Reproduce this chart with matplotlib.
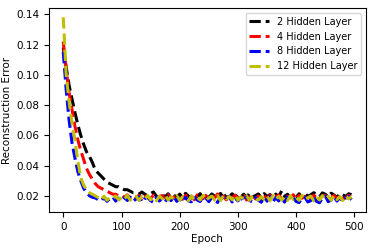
import numpy as np
import matplotlib
matplotlib.use("Agg")
import matplotlib.pyplot as plt

# epochs sampled every 5
epochs = np.arange(0, 500, 5)

# reconstruction error (x1000)
err_2 = [118, 105, 93, 84, 75, 67, 60, 54, 49, 46,
         42, 37, 35, 33, 31, 29, 28, 27, 26, 26,
         25, 24, 24, 23, 22, 22, 21, 22.5, 21, 20,
         21.5, 22.5, 19.6, 18.8, 20.9, 19.2, 21.3, 18.6, 20.4, 19.0,
         21.1, 18.7, 21.6, 19.8, 18.5, 20.9, 19.1, 21.4, 18.9, 20.3,
         18.6, 21.2, 19.7, 18.8, 21.5, 19.0, 20.6, 19.4, 21.3, 18.7,
         20.5, 19.2, 21.0, 18.9, 21.7, 19.3, 20.1, 21.2, 18.8, 21.4,
         19.5, 20.8, 18.7, 21.1, 19.4, 23.2, 19.6, 21.0, 18.9, 20.4,
         19.1, 21.3, 18.8, 21.6, 19.7, 20.6, 22.0, 21.2, 19.3, 21.9,
         21.0, 19.2, 21.7, 20.5, 18.9, 21.4, 20.7, 19.5, 21.3, 20.8]

err_4 = [122, 103, 88, 77, 66, 57, 50, 44, 38, 34,
         31, 28, 26, 25, 24, 23, 22, 21, 21, 20,
         20.3, 18.9, 20.6, 18.4, 19.9, 18.1, 20.2, 17.8, 20.5, 18.7,
         18.3, 20.4, 17.6, 19.6, 20.1, 18.0, 20.7, 17.5, 19.2, 20.0,
         18.6, 17.7, 20.3, 18.2, 19.8, 17.4, 20.6, 19.0, 18.1, 20.2,
         17.6, 20.0, 18.5, 21.2, 17.9, 19.7, 17.3, 20.4, 18.3, 20.5,
         17.8, 19.5, 20.3, 17.2, 18.8, 20.6, 17.9, 19.9, 17.5, 20.1,
         18.2, 20.4, 17.7, 19.3, 20.5, 18.0, 17.4, 19.8, 18.6, 20.7,
         17.6, 20.2, 18.4, 19.4, 21.0, 17.5, 20.3, 18.7, 17.9, 19.8,
         20.4, 17.3, 19.1, 20.2, 17.8, 20.6, 17.6, 18.9, 20.3, 18.5]

err_8 = [115, 90, 70, 55, 45, 36, 30, 25, 22, 20,
         19, 18.6, 17.4, 16.6, 18.9, 16.3, 18.2, 19.3, 16.5, 18.4,
         16.2, 18.8, 16.9, 19.1, 16.4, 17.9, 19.4, 15.8, 18.3, 18.9,
         16.7, 15.6, 19.2, 16.5, 18.6, 16.1, 18.7, 16.8, 19.6, 16.3,
         18.5, 15.7, 19.0, 16.6, 16.0, 19.3, 17.2, 16.2, 19.5, 18.4,
         16.1, 18.9, 16.9, 15.6, 19.2, 16.4, 18.6, 19.4, 15.9, 18.5,
         16.6, 19.1, 16.2, 19.8, 16.8, 15.9, 18.8, 17.1, 15.7, 19.2,
         16.4, 19.6, 16.0, 18.7, 16.6, 18.9, 15.8, 19.3, 16.7, 18.5,
         16.2, 15.5, 18.7, 19.1, 15.9, 16.8, 19.5, 16.3, 15.4, 18.6,
         19.9, 16.1, 17.2, 19.2, 16.5, 18.8, 16.2, 18.6, 19.5, 17.4]

err_12 = [138, 100, 82, 68, 57, 43, 32, 27, 24, 22,
          21, 20, 18.8, 17.4, 19.7, 17.0, 18.9, 18.2, 19.9, 17.3,
          19.2, 17.8, 20.3, 17.1, 18.7, 19.8, 16.9, 19.5, 17.6, 20.2,
          17.3, 19.0, 16.8, 19.7, 18.1, 20.4, 17.2, 19.3, 17.7, 20.0,
          17.0, 19.4, 18.5, 16.7, 19.9, 17.5, 19.1, 17.2, 20.3, 16.9,
          18.6, 19.8, 17.1, 20.1, 16.8, 20.2, 17.9, 19.5, 17.3, 20.5,
          17.0, 19.2, 17.6, 19.9, 16.9, 20.0, 18.4, 17.2, 19.4, 17.5,
          19.8, 16.7, 20.1, 17.8, 19.6, 17.1, 19.3, 16.9, 20.0, 17.6,
          19.5, 17.0, 20.3, 17.4, 18.7, 19.8, 16.8, 19.4, 17.2, 20.1,
          17.7, 19.6, 17.0, 20.2, 17.5, 19.4, 16.9, 19.9, 18.0, 19.3]

labels = ["2 Hidden Layer", "4 Hidden Layer", "8 Hidden Layer", "12 Hidden Layer"]
colours = ["k", "r", "b", "y"]

plt.rcParams["font.size"] = 7.5
fig = plt.figure(figsize=(3.73, 2.5), dpi=100)
ax = fig.add_axes([0.131, 0.152, 0.85, 0.816])

for series, lab, c in zip([err_2, err_4, err_8, err_12], labels, colours):
    ax.plot(epochs, np.array(series) / 1000, c + "--", lw=2.2, label=lab)

ax.set_xticks([0, 100, 200, 300, 400, 500])
ax.set_yticks([0.02, 0.04, 0.06, 0.08, 0.10, 0.12, 0.14])
ax.set_xlabel("Epoch", labelpad=2)
ax.set_ylabel("Reconstruction Error", labelpad=3)
ax.legend(loc="upper right", fontsize=7)

fig.savefig("out.png", dpi=100)
